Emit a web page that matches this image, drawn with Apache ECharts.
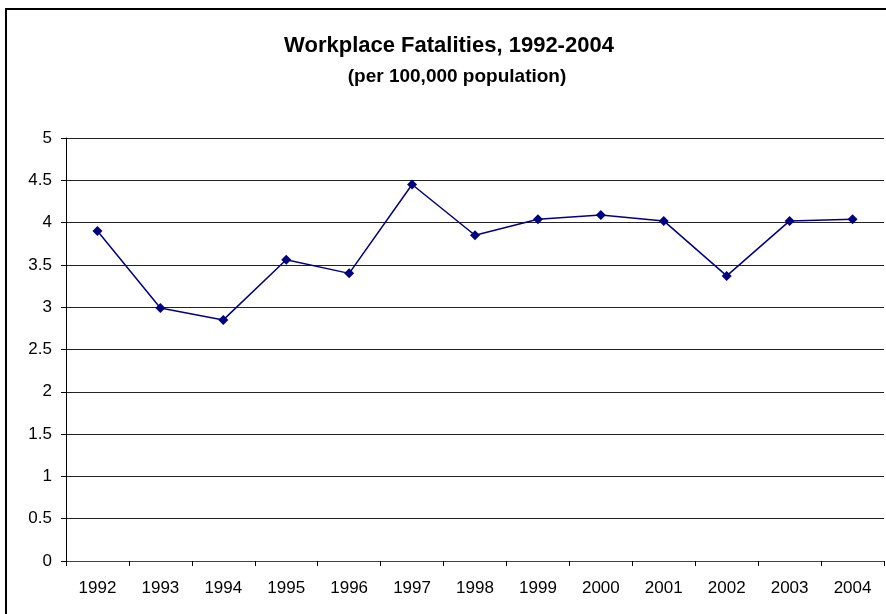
<!DOCTYPE html>
<html>
<head>
<meta charset="utf-8">
<script src="https://cdn.jsdelivr.net/npm/echarts@6/dist/echarts.min.js"></script>
<style>
  html, body { margin: 0; padding: 0; background: #fff; }
  #chart { width: 886px; height: 614px; }
</style>
</head>
<body>
<div id="chart"></div>
<script>
const years = ["1992", "1993", "1994", "1995", "1996", "1997", "1998", "1999", "2000", "2001", "2002", "2003", "2004"];
const fatalities = [3.9, 2.99, 2.85, 3.56, 3.4, 4.45, 3.85, 4.04, 4.09, 4.02, 3.37, 4.02, 4.04];

const myChart = echarts.init(document.getElementById("chart"));
const font = "'Liberation Sans', Arial, sans-serif";

option = {
  backgroundColor: "#fff",
  animation: false,
  title: [
    {
      text: "Workplace Fatalities, 1992-2004",
      left: 449,
      textAlign: "center",
      top: 35,
      padding: 0,
      textStyle: { fontFamily: font, fontSize: 22, fontWeight: "bold", color: "#000" }
    },
    {
      text: "(per 100,000 population)",
      left: 457,
      textAlign: "center",
      top: 67,
      padding: 0,
      textStyle: { fontFamily: font, fontSize: 19, fontWeight: "bold", color: "#000" }
    }
  ],
  graphic: [
    {
      type: "rect",
      shape: { x: 6, y: 9, width: 920, height: 700 },
      style: { fill: "none", stroke: "#000", lineWidth: 2 },
      silent: true
    }
  ],
  grid: {
    left: 66,
    right: 2,
    top: 138,
    bottom: 53
  },
  xAxis: {
    type: "category",
    data: years,
    boundaryGap: true,
    axisLine: { lineStyle: { color: "#444", width: 1 } },
    axisTick: { show: true, length: 5, lineStyle: { color: "#000" } },
    axisLabel: { fontFamily: font, fontSize: 17, color: "#000", margin: 19 }
  },
  yAxis: {
    type: "value",
    min: 0,
    max: 5,
    interval: 0.5,
    axisLine: { show: true, lineStyle: { color: "#000", width: 1 } },
    axisTick: { show: true, length: 5, lineStyle: { color: "#000" } },
    axisLabel: { fontFamily: font, fontSize: 17, color: "#000", margin: 14 },
    splitLine: { show: true, lineStyle: { color: "#222", width: 1 } }
  },
  series: [
    {
      name: "Fatalities",
      type: "line",
      data: fatalities,
      symbol: "diamond",
      symbolSize: 10,
      lineStyle: { color: "#000080", width: 1.5 },
      itemStyle: { color: "#000080" }
    }
  ]
};
myChart.setOption(option);
</script>
</body>
</html>
